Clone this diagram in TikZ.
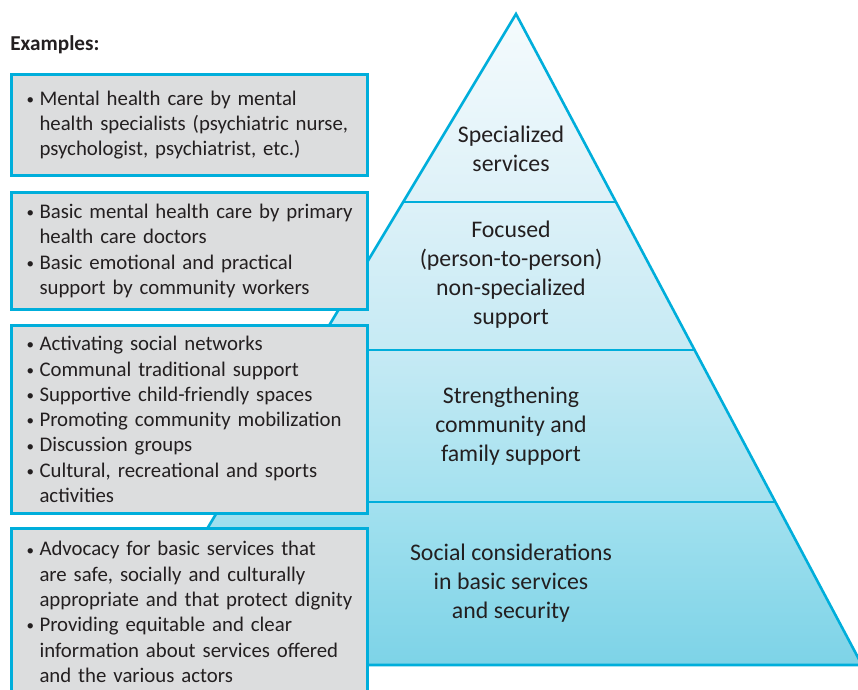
\documentclass[tikz,border=0pt]{standalone}
\usepackage{fontspec}
\setmainfont{Carlito}
\usepackage{tikz}
\usetikzlibrary{calc,positioning}
\definecolor{pyrline}{RGB}{0,174,219}
\definecolor{boxgray}{RGB}{220,221,222}
\definecolor{inkgray}{RGB}{35,31,32}
\definecolor{lvA}{RGB}{245,251,253}
\definecolor{lvB}{RGB}{221,241,248}
\definecolor{lvC}{RGB}{198,234,244}
\definecolor{lvD}{RGB}{163,225,239}
\definecolor{lvE}{RGB}{126,218,236}
\definecolor{lvF}{RGB}{125,211,231}
\tikzset{node distance=10em, auto}
\tikzset{
  exbox/.style={draw=pyrline, line width=1.5pt, fill=boxgray, text=inkgray,
    anchor=north west, text width=164pt, inner xsep=7pt, inner ysep=0pt,
    align=left, font=\fontsize{10.4}{12.65}\selectfont},
  lvtext/.style={text=inkgray, align=center, font=\fontsize{11.9}{14.5}\selectfont},
  pyredge/.style={draw=pyrline, line width=1.3pt, line join=miter}
}
\newcommand{\bul}{\makebox[7pt][l]{\hspace*{0.6pt}\raisebox{0.4pt}{\fontsize{7.5}{8}\selectfont\textbullet}}}
\newcommand{\ind}{\hspace*{7pt}}

\begin{document}
\begin{tikzpicture}[x=0.5pt, y=-0.5pt]
  \clip (0,0) rectangle (858,690);
  \fill[white] (0,0) rectangle (858,690);
  %
  \coordinate (top) at (516,14);
  \coordinate (bl)  at (125.4,665);
  \coordinate (br)  at (862,665);
  \coordinate (l1) at ($(top)!0.2888!(bl)$);
  \coordinate (r1) at ($(top)!0.2888!(br)$);
  \coordinate (l2) at ($(top)!0.5161!(bl)$);
  \coordinate (r2) at ($(top)!0.5161!(br)$);
  \coordinate (l3) at ($(top)!0.7496!(bl)$);
  \coordinate (r3) at ($(top)!0.7496!(br)$);
  %
  \shade[top color=lvA, bottom color=lvB] (top) -- (r1) -- (l1) -- cycle;
  \shade[top color=lvB, bottom color=lvC] (l1) -- (r1) -- (r2) -- (l2) -- cycle;
  \shade[top color=lvC, bottom color=lvD] (l2) -- (r2) -- (r3) -- (l3) -- cycle;
  \shade[top color=lvD, middle color=lvE, bottom color=lvF] (l3) -- (r3) -- (br) -- (bl) -- cycle;
  \draw[pyredge] (top) -- (br) -- (bl) -- cycle;
  \draw[pyredge] (l1) -- (r1);
  \draw[pyredge] (l2) -- (r2);
  \draw[pyredge] (l3) -- (r3);
  %
  \node[lvtext] (lv1) at (511,149) {Specialized\\services};
  \node[lvtext] (lv2) at (511,275) {Focused\\(person-to-person)\\non-specialized\\support};
  \node[lvtext] (lv3) at (511,426) {Strengthening\\community and\\family support};
  \node[lvtext] (lv4) at (511,583) {Social considerations\\in basic services\\and security};
  %
  \node[text=inkgray, anchor=base west, inner sep=0pt, font=\fontsize{10.6}{12}\selectfont\bfseries] (exhead) at (10,51) {Examples:};
  %
  \node[exbox, minimum height=50.5pt] (ex1) at (10,73)
    {\bul\mbox{Mental health care by mental}\\
     \ind\mbox{health specialists (psychiatric nurse,}\\
     \ind\mbox{psychologist, psychiatrist, etc.)}};
  \node[exbox, minimum height=58.5pt] (ex2) at (10,191)
    {\bul\mbox{Basic mental health care by primary}\\
     \ind\mbox{health care doctors}\\
     \bul\mbox{Basic emotional and practical}\\
     \ind\mbox{support by community workers}};
  \node[exbox, minimum height=94pt] (ex3) at (10,324)
    {\bul\mbox{Activating social networks}\\
     \bul\mbox{Communal traditional support}\\
     \bul\mbox{Supportive child-friendly spaces}\\
     \bul\mbox{Promoting community mobilization}\\
     \bul\mbox{Discussion groups}\\
     \bul\mbox{Cultural, recreational and sports}\\
     \ind\mbox{activities}};
  \node[exbox, minimum height=83.5pt] (ex4) at (10,527)
    {\bul\mbox{Advocacy for basic services that}\\
     \ind\mbox{are safe, socially and culturally}\\
     \ind\mbox{appropriate and that protect dignity}\\
     \bul\mbox{Providing equitable and clear}\\
     \ind\mbox{information about services offered}\\
     \ind\mbox{and the various actors}};
\end{tikzpicture}
\end{document}
